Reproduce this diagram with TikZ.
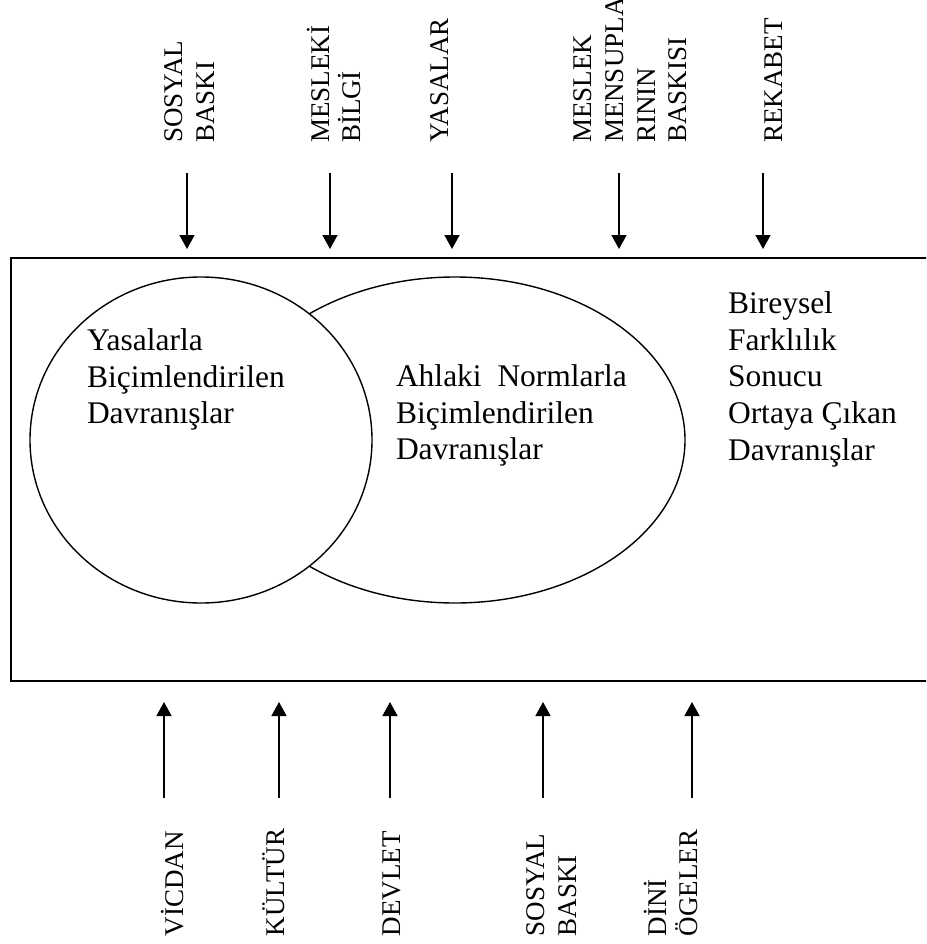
\documentclass[tikz,border=0pt]{standalone}
\usepackage{fontspec}
\setmainfont{Liberation Serif}
\usetikzlibrary{shapes.geometric,arrows.meta}
\newcommand\bxfont{\fontsize{31.5}{36.8}\selectfont}
\newcommand\lbfont{\fontsize{27}{31.6}\selectfont}
\begin{document}
\begin{tikzpicture}[x=1pt,y=-1pt,
  arr/.style={line width=1.5pt,-{Triangle[width=15pt,length=14pt]}},
  lbl/.style={anchor=north west,inner sep=0pt,outer sep=0pt,rotate=90,align=left,font=\lbfont},
  txt/.style={anchor=north west,inner sep=0pt,outer sep=0pt,align=left,font=\bxfont},
  venn/.style={ellipse,draw,line width=1.4pt,fill=white,inner sep=0pt}]
\useasboundingbox (0,0) rectangle (926,944);
\clip (0,0) rectangle (926,944);
\fill[white] (0,0) rectangle (926,944);
% frame (open to the right)
\draw[line width=2pt] (940,258) -- (11,258) -- (11,681) -- (940,681);
% ellipses
\node[venn, minimum width=460pt, minimum height=326pt] (moral) at (455,440) {};
\node[venn, minimum width=342pt, minimum height=326pt] (law) at (201,440) {};
% texts in the frame
\node[txt] (lawtxt) at (87,328.5) {Yasalarla\\Biçimlendirilen\\Davranışlar};
\node[txt] (moraltxt) at (396,364.5) {Ahlaki\ \ Normlarla\\Biçimlendirilen\\Davranışlar};
\node[txt] (indtxt) at (728,291.5) {Bireysel\\Farklılık\\Sonucu\\Ortaya Çıkan\\Davranışlar};
% top labels
\node[lbl] (t1) at (165,143) {SOSYAL\\BASKI};
\node[lbl] (t2) at (307,143) {MESLEKİ\\BİLGİ};
\node[lbl] (t3) at (431,143) {YASALAR};
\node[lbl] (t4) at (574,143) {MESLEK\\MENSUPLA\\RININ\\BASKISI};
\node[lbl] (t5) at (765,143) {REKABET};
% bottom labels
\node[lbl] (b1) at (161,936) {VİCDAN};
\node[lbl] (b2) at (263,936) {KÜLTÜR};
\node[lbl] (b3) at (383,936) {DEVLET};
\node[lbl] (b4) at (527,936) {SOSYAL\\BASKI};
\node[lbl] (b5) at (644,936) {DİNİ\\ÖGELER};
% arrow coordinates
\foreach \n/\x in {1/187,2/330,3/452,4/619,5/763}{
  \coordinate (ts\n) at (\x,173);
  \coordinate (te\n) at (\x,249);
}
\foreach \n/\x in {1/164,2/279,3/390,4/543,5/692}{
  \coordinate (bs\n) at (\x,798);
  \coordinate (be\n) at (\x,702);
}
\foreach \n in {1,...,5}{
  \draw[arr] (ts\n) -- (te\n);
  \draw[arr] (bs\n) -- (be\n);
}
\end{tikzpicture}
\end{document}
